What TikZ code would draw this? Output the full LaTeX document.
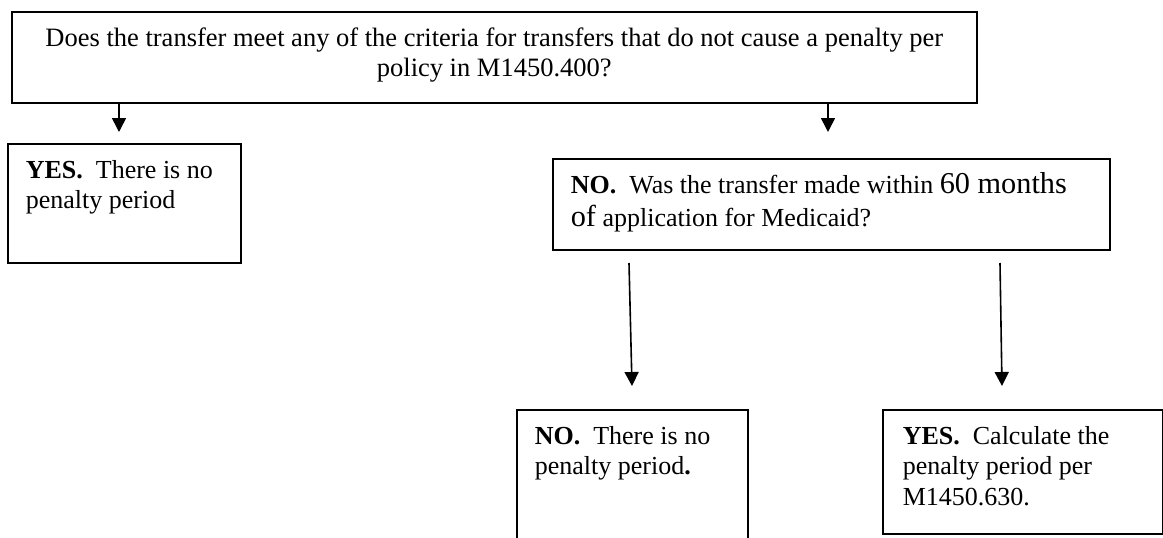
\documentclass[tikz,border=0pt]{standalone}
\usepackage{fontspec}
\setmainfont{Liberation Serif}
\usetikzlibrary{arrows.meta}
\newcommand\bxt[3]{\parbox[t][#2][t]{#1}{#3}}
\newcommand\bigtx[1]{{\fontsize{30.3}{33}\selectfont #1}}
\begin{document}
\begin{tikzpicture}[x=1pt,y=-1pt,
  box/.style={draw, line width=1.6pt, inner xsep=18pt, inner ysep=13pt, anchor=north west,
    font=\fontsize{26}{30.5}\selectfont},
  arr/.style={line width=1.6pt, -{Triangle[length=14pt,width=14pt]}}]
\useasboundingbox (0,0) rectangle (1163,538);
\clip (0,0) rectangle (1163,538);
\node[box, font=\fontsize{26.5}{30.5}\selectfont] (top) at (11,11) {\bxt{929pt}{65pt}{\centering\strut Does the transfer meet any of the criteria for transfers that do not cause a penalty per\\ policy in M1450.400?}};
\node[box] (yes1) at (7,143) {\bxt{197pt}{93pt}{\strut\textbf{YES.}\ \ There is no\\ penalty period}};
\node[box] (no1) at (552,158) {\bxt{521pt}{65pt}{\baselineskip=33pt\strut\textbf{NO.}\ \ Was the transfer made within \bigtx{60 months}\\ \bigtx{of} application for Medicaid?}};
\node[box] (no2) at (516,409) {\bxt{195pt}{160pt}{\strut\textbf{NO.}\ \ There is no\\ penalty period\textbf{.}}};
\node[box, inner xsep=20pt] (yes2) at (882,409) {\bxt{240pt}{98pt}{\strut\textbf{YES.}\ \ Calculate the\\ penalty period per\\ M1450.630.}};
\coordinate (t1) at (119,132);
\coordinate (t2) at (828,132);
\coordinate (m1s) at (629,263);
\coordinate (m1e) at (632,386);
\coordinate (m2s) at (1000,263);
\coordinate (m2e) at (1002,386);
\draw[arr] (top.south -| t1) -- (t1);
\draw[arr] (top.south -| t2) -- (t2);
\draw[arr] (m1s) -- (m1e);
\draw[arr] (m2s) -- (m2e);
\end{tikzpicture}
\end{document}
